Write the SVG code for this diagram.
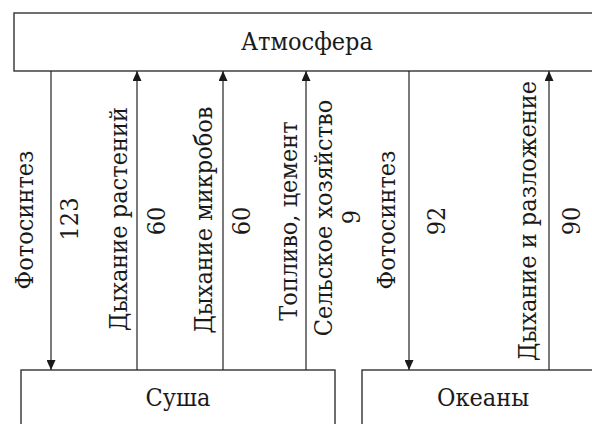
<svg xmlns="http://www.w3.org/2000/svg" width="592" height="424" viewBox="0 0 592 424">
<style>
.box{fill:#fff;stroke:#333;stroke-width:1.4}
.ln{stroke:#222;stroke-width:1.2;fill:none}
</style>
<defs>
<marker id="ah" viewBox="0 0 10 9" refX="10" refY="4.5" markerWidth="10" markerHeight="9" markerUnits="userSpaceOnUse" orient="auto">
<path d="M0,0 L10,4.5 L0,9 Z" fill="#1a1a1a"/>
</marker>
</defs>
<rect width="592" height="424" fill="#fff"/>
<g font-family="DejaVu Serif Condensed, DejaVu Serif, serif" font-stretch="condensed" font-size="25" fill="#1a1a1a" text-anchor="middle">
<g id="atmosphere">
<rect class="box" x="14" y="13" width="600" height="58"/>
<text x="307" y="50">Атмосфера</text>
</g>
<g id="land">
<rect class="box" x="21" y="370" width="314" height="70"/>
<text x="178" y="406">Суша</text>
</g>
<g id="oceans">
<rect class="box" x="362" y="370" width="250" height="70"/>
<text x="483" y="406">Океаны</text>
</g>
<g id="connectors">
<line class="ln" x1="51" y1="71" x2="51" y2="370" marker-end="url(#ah)"/>
<line class="ln" x1="137" y1="370" x2="137" y2="71" marker-end="url(#ah)"/>
<line class="ln" x1="223" y1="370" x2="223" y2="71" marker-end="url(#ah)"/>
<line class="ln" x1="306" y1="370" x2="306" y2="71" marker-end="url(#ah)"/>
<line class="ln" x1="409" y1="71" x2="409" y2="370" marker-end="url(#ah)"/>
<line class="ln" x1="549" y1="370" x2="549" y2="71" marker-end="url(#ah)"/>
</g>
<g id="labels">
<text transform="translate(33,220) rotate(-90)">Фотосинтез</text>
<text transform="translate(78,219) rotate(-90)">123</text>
<text transform="translate(127,219) rotate(-90)">Дыхание растений</text>
<text transform="translate(165,221) rotate(-90)">60</text>
<text transform="translate(212,220) rotate(-90)">Дыхание микробов</text>
<text transform="translate(250,221) rotate(-90)">60</text>
<text transform="translate(297,221) rotate(-90)">Топливо, цемент</text>
<text transform="translate(332,218) rotate(-90)">Сельское хозяйство</text>
<text transform="translate(360,217) rotate(-90)">9</text>
<text transform="translate(395,220) rotate(-90)">Фотосинтез</text>
<text transform="translate(445,221) rotate(-90)">92</text>
<text transform="translate(536,221) rotate(-90)">Дыхание и разложение</text>
<text transform="translate(580,221) rotate(-90)">90</text>
</g>
</g>
</svg>
